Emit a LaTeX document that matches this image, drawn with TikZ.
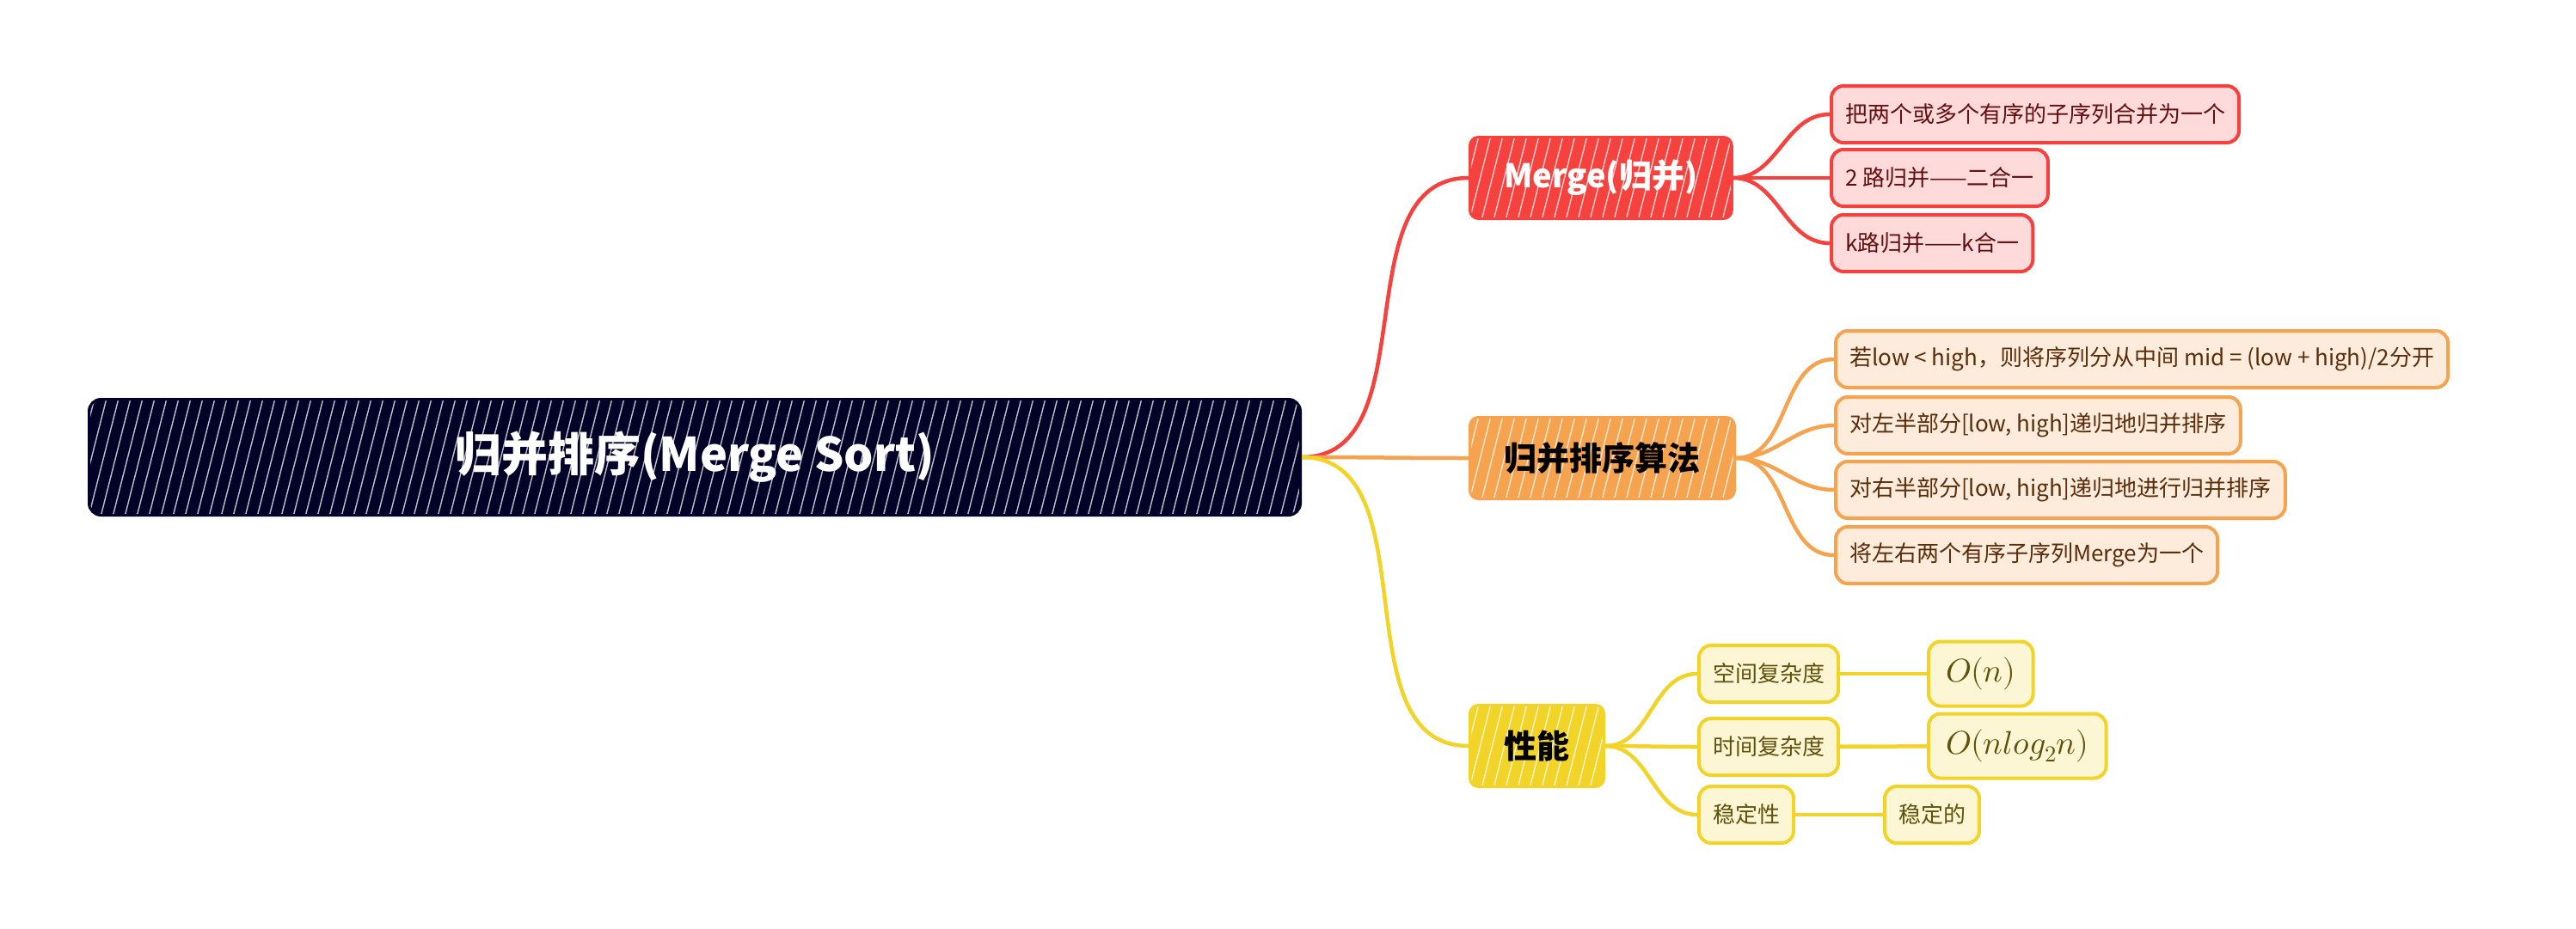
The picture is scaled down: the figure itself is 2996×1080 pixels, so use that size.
\documentclass[tikz,border=0pt]{standalone}
\usepackage{fontspec}
\usepackage{unicode-math}
\setmainfont{Noto Sans CJK SC}
\setmathfont{Latin Modern Math}
\definecolor{rootnavy}{RGB}{2,2,40}
\definecolor{mred}{RGB}{245,66,62}
\definecolor{mredlight}{RGB}{254,219,218}
\definecolor{mredtext}{RGB}{100,15,15}
\definecolor{morange}{RGB}{246,163,80}
\definecolor{morangelight}{RGB}{253,235,220}
\definecolor{morangetext}{RGB}{90,45,10}
\definecolor{myellow}{RGB}{242,212,40}
\definecolor{myellowlight}{RGB}{253,246,212}
\definecolor{myellowtext}{RGB}{95,80,10}
\begin{document}
\begin{tikzpicture}[
    x=1pt, y=-1pt,
    font=\fontsize{26}{30}\selectfont,
    hatch/.style={path picture={
        \foreach \i in {-6,...,112}{
            \draw[white, line width=1.4pt, opacity=0.75]
                ([xshift=\i*14pt]path picture bounding box.south west) -- +(38pt,150pt);
        }}},
    root_box/.style={draw=rootnavy, fill=rootnavy, line width=3pt, rounded corners=14pt, hatch,
        minimum width=1409pt, minimum height=135pt, text=white,
        font=\fontsize{54}{60}\selectfont\bfseries},
    main_box/.style={line width=3pt, rounded corners=10pt, hatch, inner xsep=40pt,
        minimum height=95pt, anchor=west, font=\fontsize{38}{44}\selectfont\bfseries},
    leaf/.style={line width=4pt, rounded corners=14pt, inner xsep=16pt,
        minimum height=66pt, anchor=west},
    red_leaf/.style={leaf, draw=mred, fill=mredlight, text=mredtext},
    orange_leaf/.style={leaf, draw=morange, fill=morangelight, text=morangetext},
    yellow_leaf/.style={leaf, draw=myellow, fill=myellowlight, text=myellowtext},
    math_leaf/.style={yellow_leaf, inner xsep=20pt, minimum height=75pt,
        font=\fontsize{38}{42}\selectfont},
    red_edge/.style={mred, line width=4.5pt},
    orange_edge/.style={morange, line width=4.5pt},
    yellow_edge/.style={myellow, line width=4.5pt}
]
\useasboundingbox (0,0) rectangle (2996,1080);

% --- Root ---
\node[root_box] (root) at (808,532) {归并排序(Merge Sort)};

% --- Main topics ---
\node[main_box, draw=mred, fill=mred, text=white] (merge) at (1708,207) {Merge(归并)};
\node[main_box, draw=morange, fill=morange, text=black] (algo) at (1708,533) {归并排序算法};
\node[main_box, draw=myellow, fill=myellow, text=black] (perf) at (1708,868) {性能};

\draw[red_edge] (root.east) to[out=0, in=180] (merge.west);
\draw[orange_edge] (root.east) to[out=0, in=180] (algo.west);
\draw[yellow_edge] (root.east) to[out=0, in=180] (perf.west);

% --- Merge (red) ---
\node[red_leaf] (m1) at (2128,133) {把两个或多个有序的子序列合并为一个};
\node[red_leaf] (m2) at (2128,207) {2 路归并——二合一};
\node[red_leaf] (m3) at (2128,283) {k路归并——k合一};

\foreach \n in {m1,m2,m3}
    \draw[red_edge] (merge.east) to[out=0, in=180] (\n.west);

% --- Algorithm (orange) ---
\node[orange_leaf] (a1) at (2133,418) {若low < high，则将序列分从中间 mid = (low + high)/2分开};
\node[orange_leaf] (a2) at (2133,495) {对左半部分[low, high]递归地归并排序};
\node[orange_leaf] (a3) at (2133,570) {对右半部分[low, high]递归地进行归并排序};
\node[orange_leaf] (a4) at (2133,646) {将左右两个有序子序列Merge为一个};

\foreach \n in {a1,a2,a3,a4}
    \draw[orange_edge] (algo.east) to[out=0, in=180] (\n.west);

% --- Performance (yellow) ---
\node[yellow_leaf] (p1) at (1974,784) {空间复杂度};
\node[yellow_leaf] (p2) at (1974,869) {时间复杂度};
\node[yellow_leaf] (p3) at (1974,948) {稳定性};

\node[math_leaf] (q1) at (2241,784) {$O(n)$};
\node[math_leaf] (q2) at (2241,868) {$O(nlog_2n)$};
\node[yellow_leaf] (q3) at (2190,948) {稳定的};

\foreach \n in {p1,p2,p3}
    \draw[yellow_edge] (perf.east) to[out=0, in=180] (\n.west);
\draw[yellow_edge] (p1) -- (q1);
\draw[yellow_edge] (p2) -- (q2);
\draw[yellow_edge] (p3) -- (q3);

\end{tikzpicture}
\end{document}
